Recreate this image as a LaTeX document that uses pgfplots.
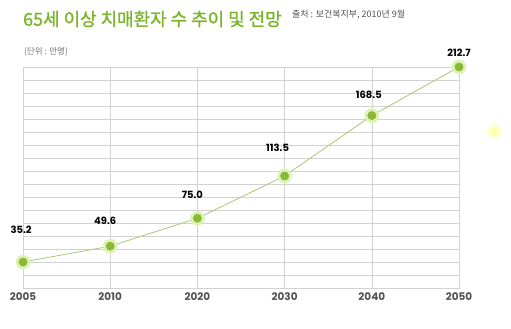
\documentclass[border=0pt]{standalone}
\usepackage{pgfplots}
\pgfplotsset{compat=1.18}
\usepackage{pgfplotstable}
\usepackage{fontspec}
\setmainfont{Noto Sans CJK KR}
\newfontfamily\kr{Noto Sans CJK KR}
\newfontfamily\krtitle{Noto Sans CJK KR}[FakeBold=1.2]
\newfontfamily\numf{Poppins}
\definecolor{titlegreen}{HTML}{7AB52B}
\definecolor{dotgreen}{HTML}{8AB83A}
\definecolor{glow}{HTML}{DDF3B2}
\definecolor{linegreen}{HTML}{A9C77A}
\definecolor{gridgray}{HTML}{D2D2D2}

\pgfplotstableread{
x v dx dy
0 35.2 -2 32
1 49.6 -5 25
2 75.0 -5 24
3 113.5 -7 28
4 168.5 -3 21
5 212.7 0 14
}\data

\begin{document}
\begin{tikzpicture}[x=1bp,y=1bp]
\useasboundingbox (0,0) rectangle (511,328);
\fill[white] (0,0) rectangle (511,328);
\shade[inner color=yellow!45, outer color=white] (494,197) circle (9);
\begin{axis}[at={(23bp,40bp)}, anchor=south west, scale only axis,
 width=436bp, height=221bp,
 xmin=0, xmax=5, ymin=11.53, ymax=212.7,
 xtick={0,...,5}, xticklabels={2005,2010,2020,2030,2040,2050},
 ytick={11.53,23.364,...,212.7}, yticklabels={},
 grid=major, major grid style={gridgray, line width=0.6pt},
 axis line style={gridgray, line width=0.6pt},
 major tick length=0pt,
 xticklabel style={font=\numf\bfseries\fontsize{10.5}{10.5}\selectfont, text=black!68, yshift=-1bp},
 clip=false,
]
\addplot[color=glow, only marks, mark=*, mark size=7bp, mark options={draw=glow, fill=glow}] table[x=x,y=v]{\data};
\addplot[color=linegreen, line width=0.8pt, mark=*, mark size=4bp,
  mark options={draw=dotgreen, fill=dotgreen},
  point meta=y,
  visualization depends on={\thisrow{dx}\as\mydx},
  visualization depends on={\thisrow{dy}\as\mydy},
  nodes near coords={\pgfmathprintnumber[fixed,fixed zerofill,precision=1,assume math mode=true]{\pgfplotspointmeta}},
  every node near coord/.append style={anchor=center, xshift=\mydx, yshift=\mydy,
     font=\numf\bfseries\fontsize{10}{10}\selectfont, text=black}
] table[x=x,y=v]{\data};
\end{axis}
\node[anchor=west, inner sep=0pt, text=titlegreen, font=\krtitle\fontsize{18}{18}\selectfont] at (23,309) {65세 이상 치매환자 수 추이 및 전망};
\node[anchor=west, inner sep=0pt, text=black!68, font=\kr\fontsize{9}{9}\selectfont] at (292,313) {출처 : 보건복지부, 2010년 9월};
\node[anchor=west, inner sep=0pt, text=black!55, font=\kr\fontsize{8.5}{8.5}\selectfont] at (24,276) {(단위 : 만명)};
\end{tikzpicture}
\end{document}
